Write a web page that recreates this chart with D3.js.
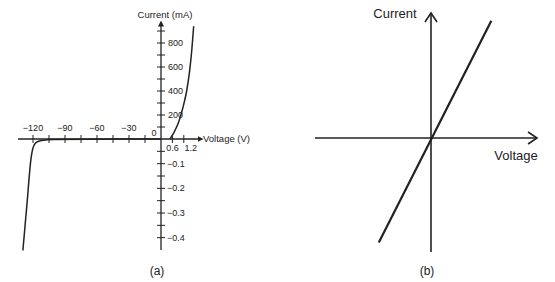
<!DOCTYPE html>
<html>
<head>
<meta charset="utf-8">
<script src="https://cdn.jsdelivr.net/npm/d3@7"></script>
<style>
	body { margin: 0; background: #fff; }
	svg { display: block; font-family: "Liberation Sans", Arial, Helvetica, sans-serif; }
	text { fill: #222; }
</style>
</head>
<body>
<div id="chart"></div>
<script>
// panel (a): diode I-V curve (volts, mA)
var reverseVoltage = [-129.5, -125.5, -122, -120, -117, -112, -100, 0];
var reverseCurrent = [-0.452, -0.256, -0.084, -0.036, -0.014, -0.006, -0.002, 0];
var forwardVoltage = [0.47, 0.7, 0.95, 1.15, 1.35, 1.5, 1.62, 1.72];
var forwardCurrent = [0, 60, 150, 260, 400, 560, 740, 940];

var negVoltageTicks = [-15, -30, -45, -60, -75, -90, -105, -120];
var negVoltageLabels = [-30, -60, -90, -120];
var posVoltageTicks = [0.6, 1.2];
var posVoltageLabels = [0.6, 1.2];
var posCurrentTicks = [100, 200, 300, 400, 500, 600, 700, 800, 900];
var posCurrentLabels = [200, 400, 600, 800];
var negCurrentTicks = [-0.05, -0.1, -0.15, -0.2, -0.25, -0.3, -0.35, -0.4];
var negCurrentLabels = [-0.1, -0.2, -0.3, -0.4];

// panel (b): linear (ohmic) characteristic
var linearVoltage = [-0.45, 0.52];
var linearCurrent = [-0.9, 1.01];

var width = 555, height = 282;
var ink = "#222";

var svg = d3.select("#chart").append("svg")
	.attr("width", width)
	.attr("height", height);

var defs = svg.append("defs");
defs.append("marker")
	.attr("id", "arrow-a")
	.attr("viewBox", "0 0 8 8")
	.attr("refX", 2).attr("refY", 4)
	.attr("markerWidth", 6).attr("markerHeight", 6)
	.attr("markerUnits", "userSpaceOnUse")
	.attr("orient", "auto")
	.append("path")
	.attr("d", "M0,0L8,4L0,8Z")
	.attr("fill", ink);

defs.append("marker")
	.attr("id", "arrow-b")
	.attr("viewBox", "0 0 14 14")
	.attr("refX", 12).attr("refY", 7)
	.attr("markerWidth", 14).attr("markerHeight", 14)
	.attr("markerUnits", "userSpaceOnUse")
	.attr("orient", "auto")
	.append("path")
	.attr("d", "M3,1L12,7L3,13")
	.attr("fill", "none")
	.attr("stroke", ink)
	.attr("stroke-width", 1.6);

// ---------- panel (a) ----------
// piecewise scales: the two halves of each axis use different units
var xA = d3.scaleLinear().domain([-135, 0, 2]).range([17, 161, 199]);
var yA = d3.scaleLinear().domain([-0.45, 0, 950]).range([250, 139, 25]);
var fmt = d3.format("");

var ga = svg.append("g");

// axes
ga.append("line")
	.attr("x1", xA(-134)).attr("x2", xA(2))
	.attr("y1", yA(0)).attr("y2", yA(0))
	.attr("stroke", ink).attr("stroke-width", 1.3)
	.attr("marker-end", "url(#arrow-a)");
ga.append("line")
	.attr("x1", xA(0)).attr("x2", xA(0))
	.attr("y1", yA(-0.45)).attr("y2", yA(950))
	.attr("stroke", ink).attr("stroke-width", 1.3)
	.attr("marker-end", "url(#arrow-a)");

// x ticks (cross the axis)
ga.selectAll(".xtick")
	.data(negVoltageTicks.concat(posVoltageTicks))
	.enter().append("line")
	.attr("x1", d => xA(d)).attr("x2", d => xA(d))
	.attr("y1", yA(0) - 4).attr("y2", yA(0) + 4)
	.attr("stroke", ink).attr("stroke-width", 1);

// y ticks
ga.selectAll(".ytick")
	.data(posCurrentTicks.map(d => yA(d)).concat(negCurrentTicks.map(d => yA(d))))
	.enter().append("line")
	.attr("x1", xA(0) - 4).attr("x2", xA(0) + 4)
	.attr("y1", d => d).attr("y2", d => d)
	.attr("stroke", ink).attr("stroke-width", 1);

// tick labels
ga.selectAll(".xlabel-neg")
	.data(negVoltageLabels)
	.enter().append("text")
	.attr("x", d => xA(d))
	.attr("y", yA(0) - 8)
	.attr("text-anchor", "middle")
	.attr("font-size", 9)
	.text(d => fmt(d));

ga.selectAll(".xlabel-pos")
	.data(posVoltageLabels)
	.enter().append("text")
	.attr("x", (d, i) => xA(d) + (i ? 7 : 0))
	.attr("y", yA(0) + 12)
	.attr("text-anchor", "middle")
	.attr("font-size", 9)
	.text(d => d3.format(".1f")(d));

ga.append("text")
	.attr("x", xA(0) - 7)
	.attr("y", yA(0) - 3)
	.attr("text-anchor", "middle")
	.attr("font-size", 9)
	.text("0");

ga.selectAll(".ylabel-pos")
	.data(posCurrentLabels)
	.enter().append("text")
	.attr("x", xA(0) + 7)
	.attr("y", d => yA(d) + 3)
	.attr("font-size", 9)
	.text(d => fmt(d));

ga.selectAll(".ylabel-neg")
	.data(negCurrentLabels)
	.enter().append("text")
	.attr("x", xA(0) + 6)
	.attr("y", d => yA(d) + 3)
	.attr("font-size", 9)
	.text(d => d3.format(".1f")(d));

// axis titles
ga.append("text")
	.attr("x", 165).attr("y", 18)
	.attr("text-anchor", "middle")
	.attr("font-size", 9.5)
	.text("Current (mA)");
ga.append("text")
	.attr("x", 203).attr("y", yA(0) + 3)
	.attr("font-size", 9.5)
	.text("Voltage (V)");

// curves
var lineA = d3.line()
	.x(d => xA(d[0]))
	.y(d => yA(d[1]))
	.curve(d3.curveMonotoneX);

ga.append("path")
	.datum(d3.zip(reverseVoltage, reverseCurrent))
	.attr("d", lineA)
	.attr("fill", "none")
	.attr("stroke", ink)
	.attr("stroke-width", 1.5);

ga.append("path")
	.datum(d3.zip(forwardVoltage, forwardCurrent))
	.attr("d", lineA)
	.attr("fill", "none")
	.attr("stroke", ink)
	.attr("stroke-width", 1.5);

ga.append("text")
	.attr("x", 157).attr("y", 275)
	.attr("text-anchor", "middle")
	.attr("font-size", 12)
	.text("(a)");

// ---------- panel (b) ----------
var xB = d3.scaleLinear().domain([-1, 1]).range([315, 547]);
var yB = d3.scaleLinear().domain([-1, 1]).range([254, 22]);

var gb = svg.append("g");

gb.append("line")
	.attr("x1", xB(-1)).attr("x2", xB(0.914))
	.attr("y1", yB(0)).attr("y2", yB(0))
	.attr("stroke", ink).attr("stroke-width", 1.6)
	.attr("marker-end", "url(#arrow-b)");
gb.append("line")
	.attr("x1", xB(0)).attr("x2", xB(0))
	.attr("y1", yB(-0.983)).attr("y2", yB(1.078))
	.attr("stroke", ink).attr("stroke-width", 1.6)
	.attr("marker-end", "url(#arrow-b)");

gb.append("path")
	.datum(d3.zip(linearVoltage, linearCurrent))
	.attr("d", d3.line().x(d => xB(d[0])).y(d => yB(d[1])))
	.attr("fill", "none")
	.attr("stroke", ink)
	.attr("stroke-width", 2.2);

gb.append("text")
	.attr("x", 395).attr("y", 18)
	.attr("text-anchor", "middle")
	.attr("font-size", 13)
	.text("Current");
gb.append("text")
	.attr("x", 516).attr("y", 160)
	.attr("text-anchor", "middle")
	.attr("font-size", 13)
	.text("Voltage");
gb.append("text")
	.attr("x", 427).attr("y", 275)
	.attr("text-anchor", "middle")
	.attr("font-size", 12)
	.text("(b)");
</script>
</body>
</html>
